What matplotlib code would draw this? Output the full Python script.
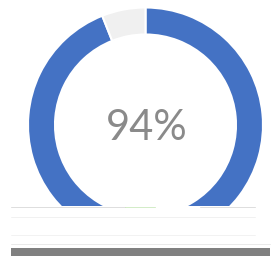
import matplotlib
matplotlib.use("Agg")
import matplotlib.pyplot as plt
from matplotlib.patches import Rectangle

categories = ["Complete", "Remaining"]
values = [94, 6]
center_label = "94%"
colors = ["#4472C4", "#F0F0F0"]

W, H = 272, 256
fig = plt.figure(figsize=(W / 100, H / 100), dpi=100)
ax = fig.add_axes([0, 0, 1, 1])

cx, cy = 145.5, H - 125
R = 117.5
ax.pie(values, colors=colors, startangle=90, counterclock=False,
       radius=R, center=(cx, cy),
       wedgeprops=dict(width=27, edgecolor="white", linewidth=1.5))
ax.set_xlim(0, W)
ax.set_ylim(0, H)
ax.set_aspect("auto")
ax.axis("off")

ax.text(cx + 1, H - 128, center_label, ha="center", va="center",
        fontsize=30, color="#8a8a8a", family="Lato", fontweight="normal")

# bottom band as in reference
ax.add_patch(Rectangle((0, H - 248), W, 42, facecolor="white", edgecolor="none", zorder=5))
ax.plot([11, 125], [H - 207, H - 207], color="#d0d0d0", lw=0.5, zorder=6)
ax.plot([125, 155], [H - 207, H - 207], color="#c0e4b0", lw=0.5, zorder=6)
ax.plot([200, 255], [H - 207, H - 207], color="#d0d0d0", lw=0.5, zorder=6)
ax.plot([11, 255], [H - 217, H - 217], color="#e6e6e6", lw=0.4, zorder=6)
ax.plot([11, 255], [H - 235, H - 235], color="#e8e8e8", lw=0.4, zorder=6)
ax.plot([11, 270], [H - 244, H - 244], color="#dadada", lw=0.4, zorder=6)
ax.add_patch(Rectangle((11, 0), 259, 8, facecolor="#808080", edgecolor="none", zorder=6))

fig.savefig("out.png", dpi=100)
